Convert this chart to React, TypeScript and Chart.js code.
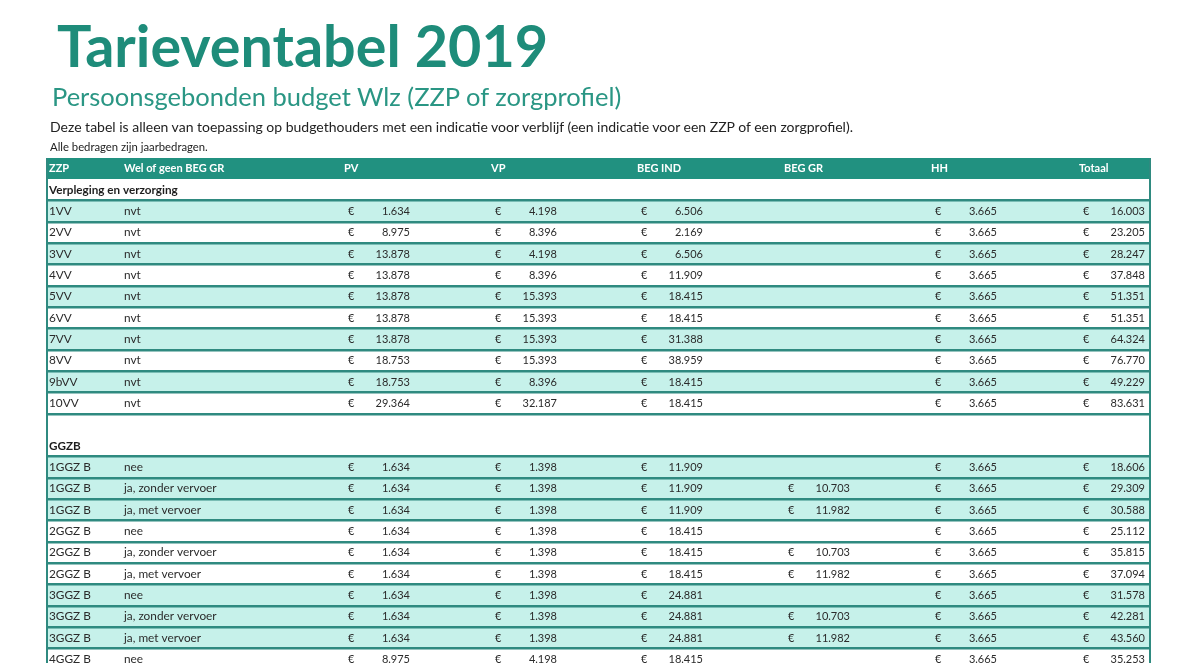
import React, { useEffect, useRef } from 'react';
import { Chart, registerables } from 'chart.js';

Chart.register(...registerables);

// ---------- data ----------
const headerLabels = ['ZZP', 'Wel of geen BEG GR', 'PV', 'VP', 'BEG IND', 'BEG GR', 'HH', 'Totaal'];
const sectionVV = 'Verpleging en verzorging';
const sectionGGZ = 'GGZB';

const vvCodes = ['1VV', '2VV', '3VV', '4VV', '5VV', '6VV', '7VV', '8VV', '9bVV', '10VV'];
const vvBegGr = ['nvt', 'nvt', 'nvt', 'nvt', 'nvt', 'nvt', 'nvt', 'nvt', 'nvt', 'nvt'];
const vvPV = [1634, 8975, 13878, 13878, 13878, 13878, 13878, 18753, 18753, 29364];
const vvVP = [4198, 8396, 4198, 8396, 15393, 15393, 15393, 15393, 8396, 32187];
const vvBegInd = [6506, 2169, 6506, 11909, 18415, 18415, 31388, 38959, 18415, 18415];
const vvBegGrAmount = [null, null, null, null, null, null, null, null, null, null];
const vvHH = [3665, 3665, 3665, 3665, 3665, 3665, 3665, 3665, 3665, 3665];
const vvTotaal = [16003, 23205, 28247, 37848, 51351, 51351, 64324, 76770, 49229, 83631];

const ggzCodes = ['1GGZ B', '1GGZ B', '1GGZ B', '2GGZ B', '2GGZ B', '2GGZ B', '3GGZ B', '3GGZ B', '3GGZ B', '4GGZ B'];
const ggzBegGr = ['nee', 'ja, zonder vervoer', 'ja, met vervoer', 'nee', 'ja, zonder vervoer', 'ja, met vervoer', 'nee', 'ja, zonder vervoer', 'ja, met vervoer', 'nee'];
const ggzPV = [1634, 1634, 1634, 1634, 1634, 1634, 1634, 1634, 1634, 8975];
const ggzVP = [1398, 1398, 1398, 1398, 1398, 1398, 1398, 1398, 1398, 4198];
const ggzBegInd = [11909, 11909, 11909, 18415, 18415, 18415, 24881, 24881, 24881, 18415];
const ggzBegGrAmount = [null, 10703, 11982, null, 10703, 11982, null, 10703, 11982, null];
const ggzHH = [3665, 3665, 3665, 3665, 3665, 3665, 3665, 3665, 3665, 3665];
const ggzTotaal = [18606, 29309, 30588, 25112, 35815, 37094, 31578, 42281, 43560, 35253];

// ---------- layout / style constants ----------
const TABLE_W = 1103;
const CODE_X = 2;
const BEG_X = 77;
const MONEY_X = [297, 444, 590, 737, 884, 1032];
const EURO_OFF = 4;
const VALUE_OFF = 66;

const TEAL = '#219180';
const LINE = '#2f8a80';
const MINT = '#c6f1ea';
const TEXT = '#2b2b2b';
const FONT = 'Lato, "Open Sans", sans-serif';

type Row = {
  id: string;
  kind: 'header' | 'section' | 'blank' | 'data';
  label?: string;
  code?: string;
  beg?: string;
  amounts?: (number | null)[];
};

function buildRows(): Row[] {
  const rows: Row[] = [{ id: 'hdr', kind: 'header' }, { id: 'sec-vv', kind: 'section', label: sectionVV }];
  vvCodes.forEach((c, i) =>
    rows.push({
      id: 'vv-' + i,
      kind: 'data',
      code: c,
      beg: vvBegGr[i],
      amounts: [vvPV[i], vvVP[i], vvBegInd[i], vvBegGrAmount[i], vvHH[i], vvTotaal[i]],
    })
  );
  rows.push({ id: 'blank', kind: 'blank' });
  rows.push({ id: 'sec-ggz', kind: 'section', label: sectionGGZ });
  ggzCodes.forEach((c, i) =>
    rows.push({
      id: 'ggz-' + i,
      kind: 'data',
      code: c,
      beg: ggzBegGr[i],
      amounts: [ggzPV[i], ggzVP[i], ggzBegInd[i], ggzBegGrAmount[i], ggzHH[i], ggzTotaal[i]],
    })
  );
  return rows;
}

const rows = buildRows();

function rowColor(r: Row): string {
  if (r.kind === 'header') return TEAL;
  if (r.kind !== 'data') return '#ffffff';
  const level = parseInt(r.code || '0', 10);
  return level % 2 === 1 ? MINT : '#ffffff';
}

const fmt = (v: number) => v.toLocaleString('de-DE');

const tableTextPlugin = {
  id: 'tableText',
  afterDraw(chart: any) {
    const { ctx, scales } = chart;
    const xs = scales.x;
    const ys = scales.y;
    ctx.save();
    ctx.textBaseline = 'middle';
    rows.forEach((r, i) => {
      const y = ys.getPixelForValue(i);
      if (r.kind === 'header') {
        ctx.fillStyle = '#ffffff';
        ctx.font = `bold 11px ${FONT}`;
        ctx.textAlign = 'left';
        ctx.fillText(headerLabels[0], xs.getPixelForValue(CODE_X), y);
        ctx.fillText(headerLabels[1], xs.getPixelForValue(BEG_X), y);
        MONEY_X.forEach((mx, k) => ctx.fillText(headerLabels[k + 2], xs.getPixelForValue(mx), y));
      } else if (r.kind === 'section') {
        ctx.fillStyle = '#1e1e1e';
        ctx.font = `bold 11.7px ${FONT}`;
        ctx.textAlign = 'left';
        ctx.fillText(r.label!, xs.getPixelForValue(CODE_X), y);
      } else if (r.kind === 'data') {
        ctx.fillStyle = TEXT;
        ctx.font = `11.8px ${FONT}`;
        ctx.textAlign = 'left';
        ctx.fillText(r.code!, xs.getPixelForValue(CODE_X), y);
        ctx.fillText(r.beg!, xs.getPixelForValue(BEG_X), y);
        ctx.font = `11px ${FONT}`;
        r.amounts!.forEach((v, k) => {
          if (v == null) return;
          ctx.textAlign = 'left';
          ctx.fillText('€', xs.getPixelForValue(MONEY_X[k] + EURO_OFF), y);
          ctx.textAlign = 'right';
          ctx.fillText(fmt(v), xs.getPixelForValue(MONEY_X[k] + VALUE_OFF), y);
        });
      }
    });
    ctx.restore();
  },
};

export default function App() {
  const ref = useRef<HTMLCanvasElement>(null);
  useEffect(() => {
    const chart = new Chart(ref.current!, {
      type: 'bar',
      data: {
        labels: rows.map((r) => r.id),
        datasets: [
          {
            data: rows.map(() => [0, TABLE_W]) as any,
            backgroundColor: rows.map(rowColor),
            borderWidth: 0,
            categoryPercentage: 1,
            barPercentage: 1,
          },
        ],
      },
      options: {
        indexAxis: 'y',
        responsive: false,
        maintainAspectRatio: false,
        animation: false,
        layout: { padding: { left: 47, right: 50, top: 158, bottom: 0 } },
        plugins: { legend: { display: false }, tooltip: { enabled: false }, title: { display: false } },
        scales: {
          x: {
            type: 'linear',
            min: 0,
            max: TABLE_W,
            afterBuildTicks: (axis: any) => {
              axis.ticks = [{ value: 0 }, { value: TABLE_W }];
            },
            ticks: { display: false },
            grid: { color: LINE, lineWidth: 2, drawTicks: false, z: 2 },
            border: { display: false },
          },
          y: {
            type: 'category',
            ticks: { display: false },
            border: { display: false },
            grid: {
              offset: true,
              drawTicks: false,
              z: 1,
              lineWidth: 2.5,
              color: (c: any) => {
                const i = c.index;
                if (i === 0 || i === 1) return 'rgba(0,0,0,0)';
                if (rows[i] && rows[i].kind === 'section' && rows[i - 1] && rows[i - 1].kind === 'blank') return 'rgba(0,0,0,0)';
                return LINE;
              },
            },
          },
        },
      } as any,
      plugins: [tableTextPlugin],
    });
    return () => chart.destroy();
  }, []);

  return (
    <div style={{ position: 'fixed', left: 0, top: 0, width: 1200, height: 663, overflow: 'hidden', background: '#ffffff' }}>
      <canvas ref={ref} width={1200} height={670} style={{ position: 'absolute', left: 0, top: 0, width: 1200, height: 670 }} />
      <div style={{ position: 'absolute', left: 57, top: 16, font: `bold 57.5px/1 ${FONT}`, color: '#1e8c7a', whiteSpace: 'nowrap' }}>
        Tarieventabel 2019
      </div>
      <div style={{ position: 'absolute', left: 52, top: 84, font: `25.5px/1 ${FONT}`, color: '#2a9684', whiteSpace: 'nowrap' }}>
        Persoonsgebonden budget Wlz (ZZP of zorgprofiel)
      </div>
      <div style={{ position: 'absolute', left: 50, top: 120, font: `14px/1 ${FONT}`, color: '#222', whiteSpace: 'nowrap' }}>
        Deze tabel is alleen van toepassing op budgethouders met een indicatie voor verblijf (een indicatie voor een ZZP of een zorgprofiel).
      </div>
      <div style={{ position: 'absolute', left: 50, top: 141, font: `11.3px/1 ${FONT}`, color: '#222', whiteSpace: 'nowrap' }}>
        Alle bedragen zijn jaarbedragen.
      </div>
    </div>
  );
}
